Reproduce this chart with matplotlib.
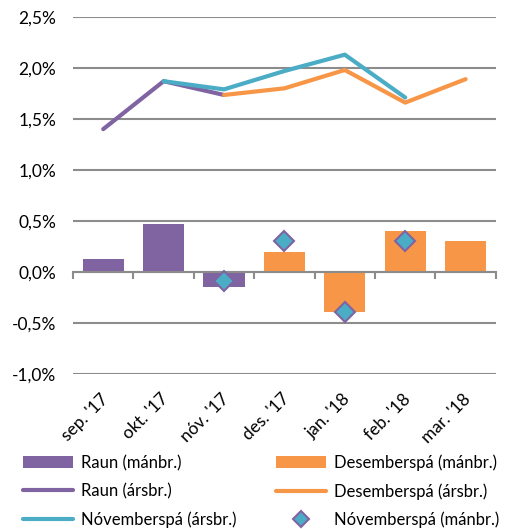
import matplotlib
matplotlib.use("Agg")
import matplotlib.pyplot as plt
import numpy as np
from matplotlib.ticker import FuncFormatter, MultipleLocator

# months on the x axis
months = ["sep. '17", "okt. '17", "nóv. '17", "des. '17", "jan. '18", "feb. '18", "mar. '18"]

# monthly change (bars) - actual and December forecast
raun_manbr = [0.13, 0.47, -0.15, np.nan, np.nan, np.nan, np.nan]
des_manbr = [np.nan, np.nan, np.nan, 0.20, -0.39, 0.40, 0.30]
# November forecast, monthly change (diamonds)
nov_manbr = [np.nan, np.nan, -0.09, 0.30, -0.39, 0.30, np.nan]

# 12-month change (lines)
raun_arsbr = [1.40, 1.87, 1.735, np.nan, np.nan, np.nan, np.nan]
des_arsbr = [np.nan, np.nan, 1.735, 1.80, 1.98, 1.66, 1.89]
nov_arsbr = [np.nan, 1.87, 1.79, 1.97, 2.13, 1.71, np.nan]

purple = '#8064A2'
orange = '#F79646'
teal = '#4BACC6'
grey = '#8C8C8C'
fs = 12.5

plt.rcParams['font.family'] = ['Lato', 'DejaVu Sans']
plt.rcParams['font.size'] = fs

fig = plt.figure(figsize=(5.23, 5.29), dpi=100)
ax = fig.add_axes([0.1396, 0.293, 0.8084, 0.675])

x = np.arange(len(months))
bw = 0.68
b1 = ax.bar(x, raun_manbr, width=bw, color=purple, zorder=2, label='Raun (mánbr.)')
b2 = ax.bar(x, des_manbr, width=bw, color=orange, zorder=2, label='Desemberspá (mánbr.)')
l1, = ax.plot(x, raun_arsbr, color=purple, lw=3, solid_capstyle='round', zorder=3, label='Raun (ársbr.)')
l2, = ax.plot(x, des_arsbr, color=orange, lw=3, solid_capstyle='round', zorder=4, label='Desemberspá (ársbr.)')
l3, = ax.plot(x, nov_arsbr, color=teal, lw=3, solid_capstyle='round', zorder=5, label='Nóvemberspá (ársbr.)')
m1, = ax.plot(x, nov_manbr, ls='none', marker='D', ms=10.5, mfc=teal, mec=purple, mew=1.5,
              zorder=6, label='Nóvemberspá (mánbr.)')

ax.set_xlim(-0.5, len(months) - 0.5)
ax.set_ylim(-1.0, 2.5)
ax.yaxis.set_major_locator(MultipleLocator(0.5))
ax.yaxis.set_major_formatter(FuncFormatter(lambda v, p: f'{v:.1f}%'.replace('.', ',')))
ax.grid(axis='y', color=grey, lw=1.5, zorder=0)
ax.tick_params(axis='y', length=0, pad=12, labelsize=fs, colors='black')

for s in ['top', 'right', 'left']:
    ax.spines[s].set_visible(False)
ax.spines['bottom'].set_position(('data', 0))
ax.spines['bottom'].set_color(grey)
ax.spines['bottom'].set_linewidth(1.5)
ax.spines['bottom'].set_zorder(2.5)

# tick marks between categories, labels at the bottom of the plot
ax.set_xticks(np.arange(len(months) + 1) - 0.5)
ax.set_xticklabels([])
ax.tick_params(axis='x', length=5, width=1.5, color=grey, direction='out')
for i, m in enumerate(months):
    ax.annotate(m, xy=(i, 0), xycoords=('data', 'axes fraction'), xytext=(6, -12),
                textcoords='offset points', rotation=45, ha='right', va='top', fontsize=fs)

lfs = 12
handles = [b1, l1, l3, b2, l2, m1]
fig.legend(handles=handles, labels=[h.get_label() for h in handles], ncol=2,
           loc='lower left', bbox_to_anchor=(0.015, -0.027), frameon=False,
           handlelength=3.0, handletextpad=0.48, columnspacing=2.4, labelspacing=0.72,
           markerscale=0.75, fontsize=lfs)

fig.savefig('out.png', dpi=100)
